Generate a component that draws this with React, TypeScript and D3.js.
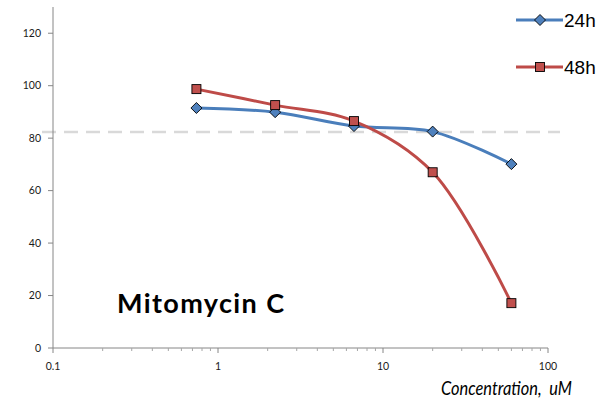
import React from "react";
import * as d3 from "d3";

const concentrations = [0.74, 2.22, 6.67, 20, 60];
const series24h = [91.5, 89.9, 84.6, 82.5, 70.1];
const series48h = [98.7, 92.6, 86.5, 67.0, 17.1];
const yTicks = [0, 20, 40, 60, 80, 100, 120];
const xTicks = [0.1, 1, 10, 100];
const thresholdValue = 82.3;

const W = 608, H = 402;
const FONT = "Lato, 'Open Sans', sans-serif";

export default function App() {
  const x = d3.scaleLog().domain([0.1, 100]).range([53, 548]);
  const y = d3.scaleLinear().domain([0, 130]).range([348, 7]);
  const line = d3
    .line<number>()
    .x((_, i) => x(concentrations[i]))
    .y((d) => y(d))
    .curve(d3.curveCatmullRom.alpha(0.5));

  const minorTicks: number[] = [];
  for (let dec = 0.1; dec < 100; dec *= 10) {
    for (let k = 2; k <= 9; k++) minorTicks.push(dec * k);
  }

  const blue = "#4a7ebb";
  const red = "#be4b48";
  const diamond = (cx: number, cy: number, key: string) => (
    <path
      key={key}
      d={`M${cx},${cy - 5.5}L${cx + 5.5},${cy}L${cx},${cy + 5.5}L${cx - 5.5},${cy}Z`}
      fill="#4f81bd"
      stroke="#000"
      strokeWidth={0.9}
    />
  );
  const square = (cx: number, cy: number, key: string) => (
    <rect
      key={key}
      x={cx - 4.5}
      y={cy - 4.5}
      width={9}
      height={9}
      fill="#c0504d"
      stroke="#000"
      strokeWidth={0.9}
    />
  );

  return (
    <svg
      width={W}
      height={H}
      style={{ position: "absolute", left: 0, top: 0, background: "#fff" }}
      fontFamily={FONT}
    >
      {/* threshold dashed line */}
      <line
        x1={42}
        x2={560}
        y1={y(thresholdValue)}
        y2={y(thresholdValue)}
        stroke="#d9d9d9"
        strokeWidth={2.5}
        strokeDasharray="14 8"
      />
      {/* y axis */}
      <line x1={53} x2={53} y1={7} y2={348} stroke="#868686" strokeWidth={1} />
      {yTicks.map((t) => (
        <g key={"y" + t}>
          <line x1={48} x2={53} y1={y(t)} y2={y(t)} stroke="#868686" />
          <text x={41} y={y(t)} dy="0.35em" textAnchor="end" fontSize={10.5} fill="#1a1a1a">
            {t}
          </text>
        </g>
      ))}
      {/* x axis */}
      <line x1={53} x2={548} y1={348} y2={348} stroke="#868686" strokeWidth={1} />
      {xTicks.map((t) => (
        <g key={"x" + t}>
          <line x1={x(t)} x2={x(t)} y1={348} y2={353} stroke="#868686" />
          <text x={x(t)} y={370} textAnchor="middle" fontSize={10.5} fill="#1a1a1a">
            {t}
          </text>
        </g>
      ))}
      {minorTicks.map((t, i) => (
        <line key={"m" + i} x1={x(t)} x2={x(t)} y1={348} y2={351} stroke="#a6a6a6" />
      ))}
      {/* series */}
      <path d={line(series24h) || ""} fill="none" stroke={blue} strokeWidth={3} />
      <path d={line(series48h) || ""} fill="none" stroke={red} strokeWidth={3} />
      {series24h.map((v, i) => diamond(x(concentrations[i]), y(v), "d" + i))}
      {series48h.map((v, i) => square(x(concentrations[i]), y(v), "s" + i))}
      {/* legend */}
      <line x1={516} x2={563} y1={20} y2={20} stroke={blue} strokeWidth={3} />
      {diamond(540, 20, "ld")}
      <text x={564} y={27} fontSize={19} fontFamily="'Liberation Sans', Arial, sans-serif" fill="#000">
        24h
      </text>
      <line x1={516} x2={563} y1={67} y2={67} stroke={red} strokeWidth={3} />
      {square(540, 67, "ls")}
      <text x={564} y={74} fontSize={19} fontFamily="'Liberation Sans', Arial, sans-serif" fill="#000">
        48h
      </text>
      {/* title */}
      <text x={117} y={313} fontSize={27} fontWeight="bold" fill="#000" textLength={167} lengthAdjust="spacing">
        Mitomycin C
      </text>
      {/* x axis title */}
      <text x={572} y={395} fontSize={20} fontStyle="italic" textAnchor="end" fill="#000" textLength={131} lengthAdjust="spacingAndGlyphs">
        Concentration,&#160;&#160;uM
      </text>
    </svg>
  );
}
